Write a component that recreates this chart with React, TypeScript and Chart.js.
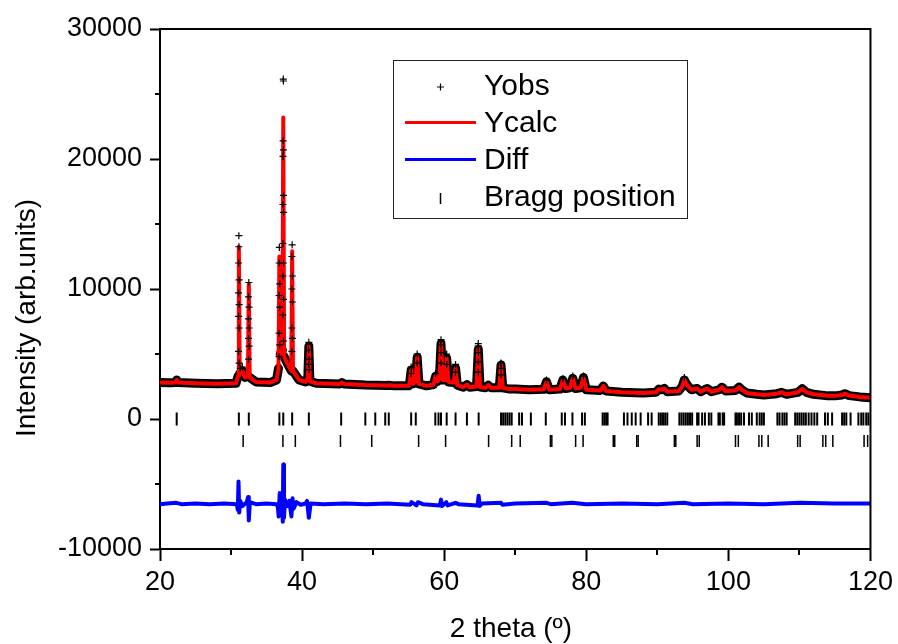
import React, { useEffect, useRef } from "react";
import { Chart, registerables } from "chart.js";
Chart.register(...registerables);

// ---------------- data ----------------
// Calculated profile (2θ, intensity)
const calcX = [
  20.0, 21.5, 22.1, 22.35, 22.6, 25.0, 28.0, 30.7, 30.98, 31.1, 31.22, 31.6, 31.95, 32.38, 32.5, 32.62,
  33.5, 35.5, 36.4, 36.68, 36.8, 36.92, 37.23, 37.35, 37.47, 37.9, 38.48, 38.6, 38.72, 39.2, 39.6, 40.5,
  40.8, 40.95, 41.1, 42.0, 45.3, 45.6, 45.9, 48.9, 50.3, 51.8, 52.2, 53.0, 55.0, 55.15, 55.35, 55.6,
  55.95, 56.2, 56.45, 57.5, 58.5, 58.8, 59.1, 59.32, 59.55, 59.8, 60.15, 60.35, 60.6, 61.35, 61.6, 61.85,
  62.7, 63.2, 63.6, 64.55, 64.8, 65.05, 65.8, 66.2, 66.6, 67.75, 68.0, 68.25, 69.2, 70.0, 72.0, 74.0,
  74.4, 74.8, 76.3, 76.7, 77.1, 77.7, 78.1, 78.5, 79.2, 79.6, 80.0, 82.0, 82.4, 82.8, 85.0, 88.0,
  89.8, 90.2, 90.6, 91.0, 91.4, 93.0, 93.5, 93.8, 94.2, 94.8, 95.6, 96.1, 97.0, 97.6, 98.7, 99.1,
  99.6, 101.0, 101.5, 102.0, 102.6, 104.0, 105.0, 106.8, 107.5, 108.2, 109.8, 110.4, 111.0, 112.0,
  114.0, 115.0, 116.0, 116.4, 117.0, 118.5, 120.0,
];
const calcY = [
  2800, 2780, 2800, 3000, 2800, 2750, 2720, 2750, 3300, 13250, 3500, 3700, 3200, 3300, 10400, 3200,
  2850, 2800, 3000, 3900, 12500, 5000, 5300, 23200, 4800, 4300, 3700, 12900, 3700, 3300, 3000, 2850,
  3100, 5600, 2900, 2750, 2700, 2800, 2700, 2620, 2600, 2580, 2600, 2550, 2550, 2800, 3770, 2700,
  2900, 4750, 2700, 2550, 2650, 3300, 2900, 3100, 5800, 3000, 3000, 4670, 2850, 2800, 3900, 2600,
  2450, 2650, 2450, 2500, 5360, 2450, 2400, 2600, 2400, 2400, 4150, 2400, 2300, 2300, 2250, 2280,
  2870, 2250, 2300, 3000, 2350, 2400, 3130, 2350, 2400, 3200, 2250, 2200, 2540, 2150, 2050, 2000,
  2050, 2300, 2250, 2350, 2100, 2150, 2500, 3000, 2600, 2250, 2350, 2100, 2350, 2100, 2250, 2450,
  2150, 2200, 2450, 2200, 2000, 1900, 1850, 1950, 2050, 1900, 2050, 2330, 2050, 1900,
  1780, 1780, 1850, 1950, 1800, 1700, 1630,
];

// Observed points visible as crosses
const obsX = [
  31.1, 31.1, 31.06, 31.14, 31.06, 31.14, 31.06, 31.14, 31.06, 31.14, 31.6, 31.3,
  32.5, 32.46, 32.54, 32.46, 32.54, 32.46, 32.54, 32.46,
  36.8, 36.76, 36.84, 36.76, 36.84, 36.76, 36.84, 36.76,
  37.35, 37.37, 37.33, 37.37, 37.31, 37.39, 37.31, 37.39, 37.31, 37.39, 37.31, 37.39, 37.31, 37.39,
  38.6, 38.56, 38.64, 38.56, 38.64, 38.56, 38.64, 38.56,
  40.95, 40.91, 40.99, 40.91, 40.99,
  55.35, 55.35, 56.2, 56.2, 58.8,
  59.55, 59.53, 59.57, 59.55, 60.35, 60.35, 61.6, 61.6,
  64.8, 64.78, 64.82, 64.8, 64.8, 68.0, 68.0, 68.0,
  74.4, 76.7, 78.1, 79.6, 93.8,
];
const obsY = [
  14100, 13250, 12000, 10700, 9700, 8800, 7900, 7000, 5200, 4300, 4000, 3900,
  10500, 9400, 8600, 7700, 7000, 6200, 5600, 4600,
  13200, 12000, 10400, 9500, 8600, 6600, 5700, 4800,
  26150, 26000, 21400, 20700, 20200, 17200, 16500, 15900, 13500, 12000, 11000, 9200, 8000, 6000,
  13400, 12500, 11000, 10000, 9000, 7000, 6200, 5200,
  5900, 5300, 4600, 4200, 3800,
  4000, 3500, 5000, 4300, 3500,
  6100, 5700, 5100, 4300, 5000, 4200, 4200, 3600,
  5800, 5600, 5100, 4400, 3600, 4300, 3900, 3400,
  3000, 3100, 3300, 3300, 3200,
];

// Difference curve (already offset)
const diffX = [
  20, 21, 22.3, 23, 25, 27, 29, 30.8, 30.95, 31.05, 31.15, 31.3, 31.6, 32.2, 32.4, 32.5, 32.65,
  33.5, 35, 36.4, 36.6, 36.7, 36.85, 37.0, 37.15, 37.28, 37.35, 37.45, 37.6, 37.9, 38.2, 38.5,
  38.65, 38.8, 39.2, 39.8, 40.5, 40.7, 40.95, 41.2, 43, 46, 49, 52, 55.2, 55.4, 56.1, 56.3, 57,
  59.4, 59.55, 59.7, 60.3, 60.5, 61.6, 62, 64.7, 64.85, 65.0, 65.3, 68.0, 68.2, 70, 74.4, 75, 78,
  80, 85, 90, 93.8, 95, 100, 105, 110, 115, 120,
];
const diffY = [
  -6550, -6500, -6450, -6550, -6500, -6550, -6500, -6550, -7000, -4800, -7200, -6300, -6700, -6400,
  -6000, -7800, -6400, -6550, -6500, -6550, -6800, -7500, -5700, -7200, -6300, -7900, -3500, -7600,
  -6200, -6700, -6300, -7500, -6100, -6900, -6400, -6600, -6500, -6300, -7600, -6500, -6550, -6500,
  -6550, -6500, -6600, -6400, -6650, -6400, -6550, -6650, -6200, -6700, -6400, -6650, -6450, -6550,
  -6650, -5900, -6700, -6500, -6450, -6600, -6500, -6450, -6550, -6450, -6550, -6500, -6550, -6450,
  -6550, -6500, -6550, -6450, -6500, -6500,
];

// Bragg reflection positions (two phases)
const braggX1 = [
  22.35, 31.1, 32.5, 36.8, 37.35, 38.6, 40.95, 45.5, 48.9, 50.3, 51.7, 52.2, 55.35, 56.0, 58.75,
  59.2, 59.55, 60.35, 61.6, 63.2, 64.85, 68.0, 68.3, 68.6, 68.9, 69.2, 69.5, 70.55, 70.95, 72.2,
  74.3, 76.55, 77.0, 78.05, 79.4, 79.8, 82.3, 82.55, 82.8, 83.0, 85.3, 85.8, 86.4, 86.95, 87.65,
  88.7, 89.2, 90.2, 90.5, 90.8, 91.1, 91.4, 93.1, 93.4, 93.7, 94.0, 94.3, 94.6, 94.9, 95.6, 95.8,
  96.3, 96.7, 97.25, 97.6, 98.6, 98.8, 99.2, 99.4, 101.0, 101.2, 101.5, 101.8, 102.2, 102.9, 103.3,
  104.0, 104.4, 104.7, 105.0, 106.9, 107.2, 107.6, 107.9, 108.2, 109.4, 109.7, 110.0, 110.3, 110.6,
  110.9, 111.3, 111.7, 112.1, 112.5, 113.6, 114.0, 114.6, 116.0, 116.3, 116.6, 117.2, 118.3, 118.7,
  119.0, 119.4, 119.7,
];
const braggX2 = [
  31.7, 37.3, 39.05, 45.4, 49.8, 56.4, 60.2, 66.25, 69.5, 70.7, 74.95, 75.15, 78.5, 79.55, 83.8,
  84.0, 87.1, 87.3, 92.4, 92.6, 95.6, 95.9, 101.0, 101.4, 104.3, 104.7, 105.6, 109.75, 110.1, 113.3,
  113.7, 114.7, 119.1, 119.6,
];
const braggLevel1 = 0;
const braggLevel2 = -1700;

const xTicks = [20, 40, 60, 80, 100, 120];
const xMinorTicks = [30, 50, 70, 90, 110];
const yTicks = [-10000, 0, 10000, 20000, 30000];
const yMinorTicks = [-5000, 5000, 15000, 25000];
const legendLabels = ["Yobs", "Ycalc", "Diff", "Bragg position"];
const xTitle = "2 theta (º)";
const yTitle = "Intensity (arb.units)";

const FONT = "Arial, 'Liberation Sans', sans-serif";

function pts(xs: number[], ys: number[]) {
  return xs.map((x, i) => ({ x, y: ys[i] }));
}
function lvl(xs: number[], y: number) {
  return xs.map((x) => ({ x, y }));
}

export default function App() {
  const ref = useRef<HTMLCanvasElement>(null);
  useEffect(() => {
    document.body.style.margin = "0";
    const canvas = ref.current!;
    const decor = {
      id: "decor",
      afterDraw(chart: any) {
        const { ctx, chartArea } = chart;
        const { left, right, top, bottom } = chartArea;
        const xs = chart.scales.x;
        const ys = chart.scales.y;
        ctx.save();
        ctx.strokeStyle = "#000";
        ctx.lineWidth = 2;
        ctx.beginPath();
        ctx.moveTo(left - 1, top);
        ctx.lineTo(right, top);
        ctx.lineTo(right, bottom + 1);
        ctx.stroke();
        ctx.beginPath();
        for (const v of xMinorTicks) {
          const px = Math.round(xs.getPixelForValue(v));
          ctx.moveTo(px, bottom);
          ctx.lineTo(px, bottom + 6);
        }
        for (const v of yMinorTicks) {
          const py = Math.round(ys.getPixelForValue(v));
          ctx.moveTo(left, py);
          ctx.lineTo(left - 5, py);
        }
        ctx.stroke();

        // axis titles
        ctx.fillStyle = "#000";
        ctx.font = `28px ${FONT}`;
        ctx.textBaseline = "alphabetic";
        ctx.textAlign = "center";
        ctx.fillText(xTitle, 511, 637);
        ctx.save();
        ctx.translate(35, 318);
        ctx.rotate(-Math.PI / 2);
        ctx.fillText(yTitle, 0, 0);
        ctx.restore();

        // legend
        const bx = 393.5, by = 60.5, bw = 294, bh = 158;
        ctx.fillStyle = "#fff";
        ctx.fillRect(bx, by, bw, bh);
        ctx.lineWidth = 1;
        ctx.strokeStyle = "#222";
        ctx.strokeRect(bx, by, bw, bh);
        const baselines = [95, 132, 169, 206];
        const symX = 440.5;
        ctx.font = `30px ${FONT}`;
        ctx.fillStyle = "#000";
        ctx.textAlign = "left";
        legendLabels.forEach((t, i) => ctx.fillText(t, 484, baselines[i]));
        ctx.strokeStyle = "#000";
        ctx.lineWidth = 1.2;
        ctx.beginPath();
        ctx.moveTo(symX - 3.5, 87);
        ctx.lineTo(symX + 3.5, 87);
        ctx.moveTo(symX, 83.5);
        ctx.lineTo(symX, 90.5);
        ctx.stroke();
        ctx.lineWidth = 3;
        ctx.strokeStyle = "#ff0000";
        ctx.beginPath();
        ctx.moveTo(405, 122.5);
        ctx.lineTo(476, 122.5);
        ctx.stroke();
        ctx.strokeStyle = "#0000ff";
        ctx.beginPath();
        ctx.moveTo(405, 159.5);
        ctx.lineTo(476, 159.5);
        ctx.stroke();
        ctx.strokeStyle = "#000";
        ctx.lineWidth = 1.5;
        ctx.beginPath();
        ctx.moveTo(symX, 193);
        ctx.lineTo(symX, 204);
        ctx.stroke();
        ctx.restore();
      },
    };

    const chart = new Chart(canvas, {
      type: "scatter",
      data: {
        datasets: [
          {
            label: "Bragg position",
            data: lvl(braggX1, braggLevel1),
            pointStyle: "line",
            pointRotation: 90,
            pointRadius: 6.5,
            borderWidth: 2,
            borderColor: "#000",
            backgroundColor: "#000",
          },
          {
            label: "Bragg position 2",
            data: lvl(braggX2, braggLevel2),
            pointStyle: "line",
            pointRotation: 90,
            pointRadius: 6,
            borderWidth: 1.5,
            borderColor: "#000",
            backgroundColor: "#000",
          },
          {
            label: "Yobs",
            data: pts(obsX, obsY),
            pointStyle: "cross",
            pointRadius: 3.5,
            borderWidth: 1.2,
            borderColor: "#000",
            backgroundColor: "#000",
          },
          {
            label: "Ycalc",
            data: pts(calcX, calcY),
            showLine: true,
            pointRadius: 0,
            borderColor: "#ff0000",
            borderWidth: 4,
            borderJoinStyle: "round",
          },
          {
            label: "Diff",
            data: pts(diffX, diffY),
            showLine: true,
            pointRadius: 0,
            borderColor: "#0000ff",
            borderWidth: 4,
            borderJoinStyle: "round",
          },
          {
            label: "Yobs band",
            data: pts(calcX, calcY),
            showLine: true,
            pointRadius: 0,
            borderColor: "#000",
            borderWidth: 9,
            borderJoinStyle: "round",
            borderCapStyle: "round",
            segment: {
              borderColor: (c: any) =>
                Math.abs(c.p1.parsed.y - c.p0.parsed.y) > 3500 ? "rgba(0,0,0,0)" : undefined,
            },
          },
        ],
      },
      options: {
        responsive: false,
        devicePixelRatio: 1,
        animation: false,
        events: [],
        layout: { padding: { top: 29, right: 26, left: 0, bottom: 0 } },
        plugins: { legend: { display: false }, tooltip: { enabled: false } },
        scales: {
          x: {
            type: "linear",
            position: "bottom",
            min: 20,
            max: 120,
            afterBuildTicks: (s: any) => {
              s.ticks = xTicks.map((v) => ({ value: v }));
            },
            ticks: {
              color: "#000",
              font: { family: FONT, size: 27 },
              padding: 5,
              maxRotation: 0,
              autoSkip: false,
              callback: (v: any) => String(v),
            },
            grid: {
              drawOnChartArea: false,
              drawTicks: true,
              tickLength: 12,
              tickWidth: 2,
              tickColor: "#000",
            },
            border: { color: "#000", width: 2 },
            title: { display: false },
            afterFit: (s: any) => {
              s.height = 95;
            },
          },
          y: {
            type: "linear",
            min: -10000,
            max: 30000,
            afterBuildTicks: (s: any) => {
              s.ticks = yTicks.map((v) => ({ value: v }));
            },
            ticks: {
              color: "#000",
              font: { family: FONT, size: 27 },
              padding: 8,
              autoSkip: false,
              callback: (v: any) => String(v),
            },
            grid: {
              drawOnChartArea: false,
              drawTicks: true,
              tickLength: 10,
              tickWidth: 2,
              tickColor: "#000",
            },
            border: { color: "#000", width: 2 },
            title: { display: false },
            afterFit: (s: any) => {
              s.width = 160;
            },
          },
        },
      },
      plugins: [decor],
    } as any);
    return () => chart.destroy();
  }, []);
  return (
    <div style={{ position: "absolute", left: 0, top: 0, width: 898, height: 644 }}>
      <canvas ref={ref} width={898} height={644} style={{ width: "898px", height: "644px", display: "block" }} />
    </div>
  );
}
